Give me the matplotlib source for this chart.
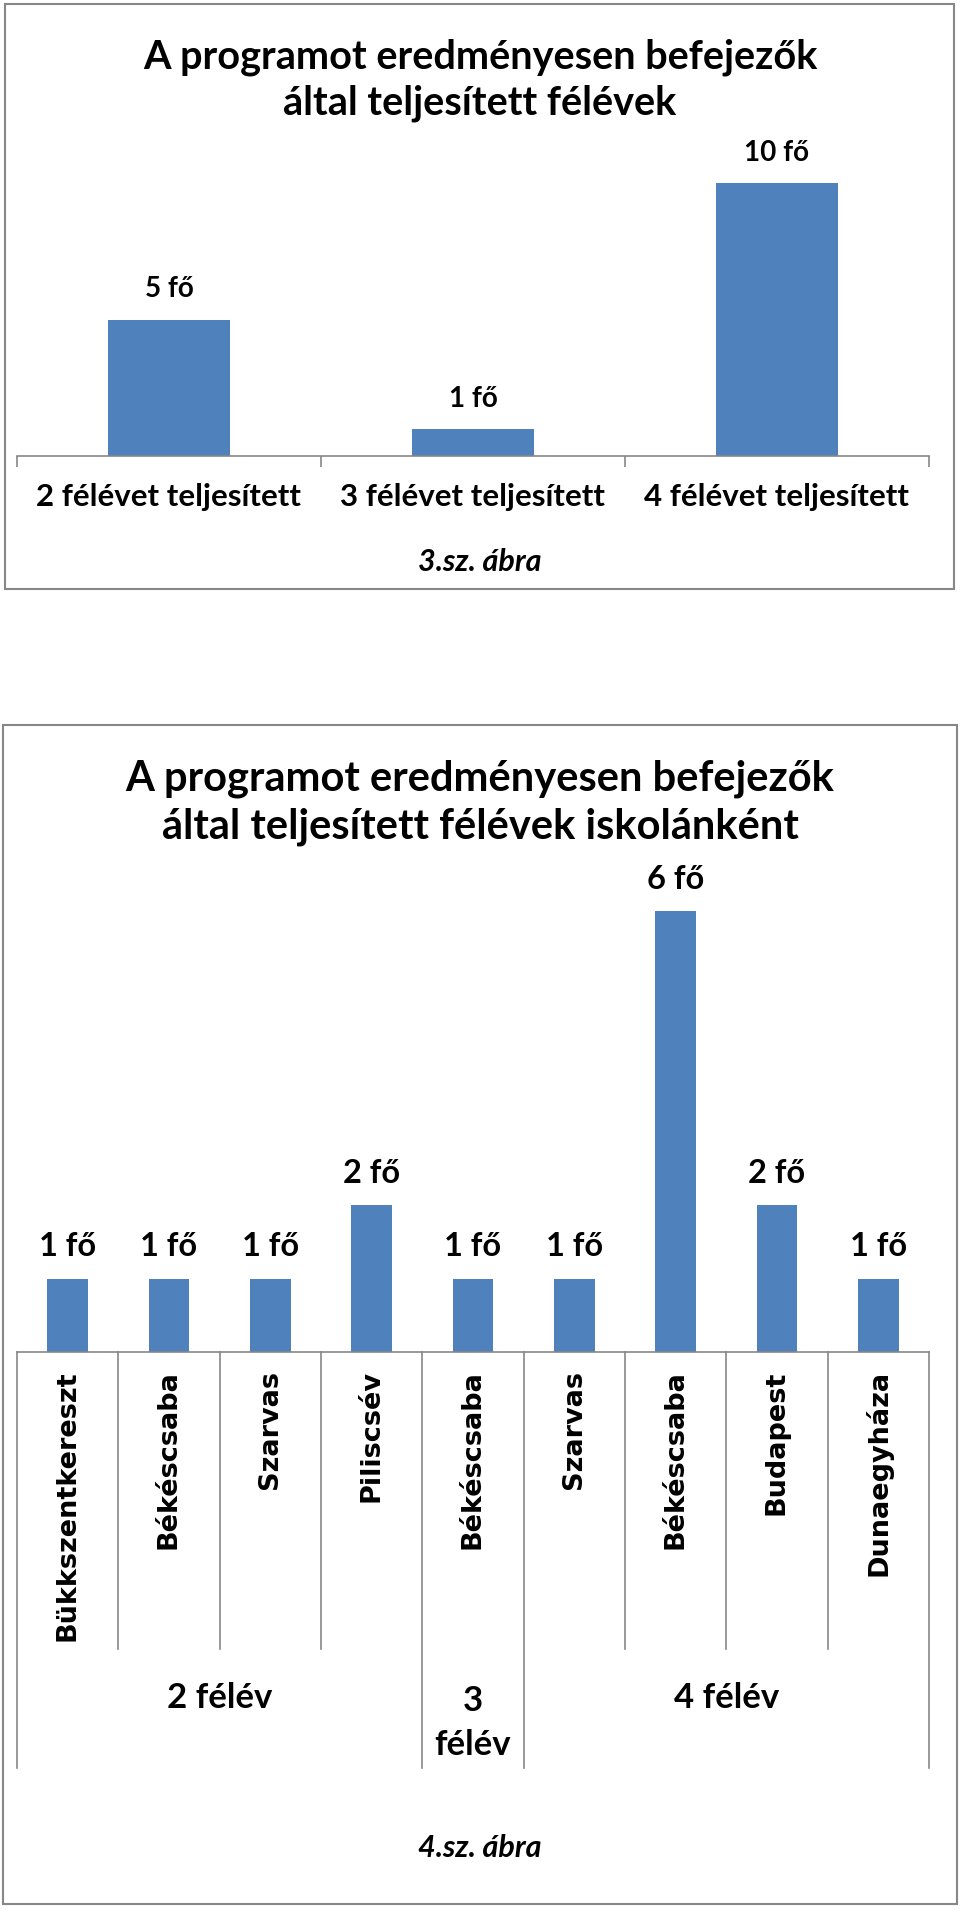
import matplotlib
matplotlib.use("Agg")
from matplotlib import pyplot as plt
from matplotlib.patches import Rectangle
from matplotlib.transforms import blended_transform_factory

# 3.sz. abra
cats1 = ["2 félévet teljesített", "3 félévet teljesített", "4 félévet teljesített"]
vals1 = [5, 1, 10]

# 4.sz. abra
schools = ["Bükkszentkereszt", "Békéscsaba", "Szarvas", "Piliscsév",
           "Békéscsaba", "Szarvas", "Békéscsaba", "Budapest", "Dunaegyháza"]
vals2 = [1, 1, 1, 2, 1, 1, 6, 2, 1]
groups = ["2 félév", "3\nfélév", "4 félév"]
group_sizes = [4, 1, 4]

W, H = 960, 1915
BLUE = "#4F81BD"
GRAY = "#878787"
FONT = "Lato"


def fx(px):
    return px / W


def fy(py):
    return 1 - py / H


fig = plt.figure(figsize=(W / 100, H / 100), dpi=100)
fig.patch.set_facecolor("white")

# frames
fig.patches.append(Rectangle((fx(5), fy(590)), fx(949), 585 / H, transform=fig.transFigure,
                             fill=False, edgecolor=GRAY, lw=1.5))
fig.patches.append(Rectangle((fx(3), fy(1905)), fx(954), (1905 - 726) / H, transform=fig.transFigure,
                             fill=False, edgecolor=GRAY, lw=1.5))


def style_axis(ax):
    for s in ["top", "left", "right"]:
        ax.spines[s].set_visible(False)
    ax.spines["bottom"].set_color(GRAY)
    ax.spines["bottom"].set_linewidth(1.2)
    ax.set_yticks([])


# ---- chart 1 ----
ax1 = fig.add_axes([fx(17), fy(457), fx(912), (457 - 184) / H])
x1 = list(range(len(cats1)))
ax1.bar(x1, vals1, width=0.4, color=BLUE)
ax1.set_xlim(-0.5, len(cats1) - 0.5)
ax1.set_ylim(0, max(vals1))
style_axis(ax1)
ax1.set_xticks([i - 0.5 for i in range(len(cats1) + 1)])
ax1.set_xticklabels([])
ax1.tick_params(axis="x", which="major", length=8, color=GRAY, width=1.2)
ax1.set_xticks(x1, minor=True)
ax1.set_xticklabels(cats1, minor=True, fontsize=22.5, fontweight="bold", family=FONT)
ax1.tick_params(axis="x", which="minor", length=0, pad=19)
for x, v in zip(x1, vals1):
    ax1.annotate(f"{v} fő", (x, v), xytext=(0, 13), textcoords="offset points",
                 ha="center", va="bottom", fontsize=20, fontweight="bold", family=FONT)

fig.text(0.5, fy(80), "A programot eredményesen befejezők\náltal teljesített félévek",
         ha="center", va="center", fontsize=28.5, fontweight="bold", family=FONT, linespacing=1.3)
fig.text(0.5, fy(562), "3.sz. ábra", ha="center", va="center", fontsize=22,
         fontweight="bold", style="italic", family=FONT)

# ---- chart 2 ----
ax2 = fig.add_axes([fx(17), fy(1353), fx(912), (1353 - 912) / H])
x2 = list(range(len(schools)))
ax2.bar(x2, vals2, width=0.4, color=BLUE)
ax2.set_xlim(-0.5, len(schools) - 0.5)
ax2.set_ylim(0, max(vals2))
style_axis(ax2)
ax2.set_xticks(x2)
ax2.set_xticklabels(schools, rotation=90, fontsize=19.5, fontweight="bold", family="DejaVu Sans")
ax2.tick_params(axis="x", length=0, pad=12.5)
for x, v in zip(x2, vals2):
    ax2.annotate(f"{v} fő", (x, v), xytext=(0, 13), textcoords="offset points",
                 ha="center", va="bottom", fontsize=23.5, fontweight="bold", family=FONT)

# category dividers and group dividers
ax_h = 1353 - 912
bounds = [0]
for g in group_sizes:
    bounds.append(bounds[-1] + g)
xt = ax2.get_xaxis_transform()
for i in range(len(schools) + 1):
    long_line = i in bounds
    depth = (1769 if long_line else 1650) - 1353
    ax2.plot([i - 0.5, i - 0.5], [0, -depth / ax_h], transform=xt, color=GRAY,
             lw=1.2, clip_on=False)

bt = blended_transform_factory(ax2.transData, fig.transFigure)
for g, a, b in zip(groups, bounds[:-1], bounds[1:]):
    ax2.text((a + b - 1) / 2, fy(1723) if "\n" in g else fy(1698), g, transform=bt,
             ha="center", va="center", fontsize=25, fontweight="bold", family=FONT,
             linespacing=1.45)

fig.text(0.5, fy(803), "A programot eredményesen befejezők\náltal teljesített félévek iskolánként",
         ha="center", va="center", fontsize=30, fontweight="bold", family=FONT, linespacing=1.3)
fig.text(0.5, fy(1848), "4.sz. ábra", ha="center", va="center", fontsize=22,
         fontweight="bold", style="italic", family=FONT)

fig.savefig("out.png", dpi=100, facecolor="white")
